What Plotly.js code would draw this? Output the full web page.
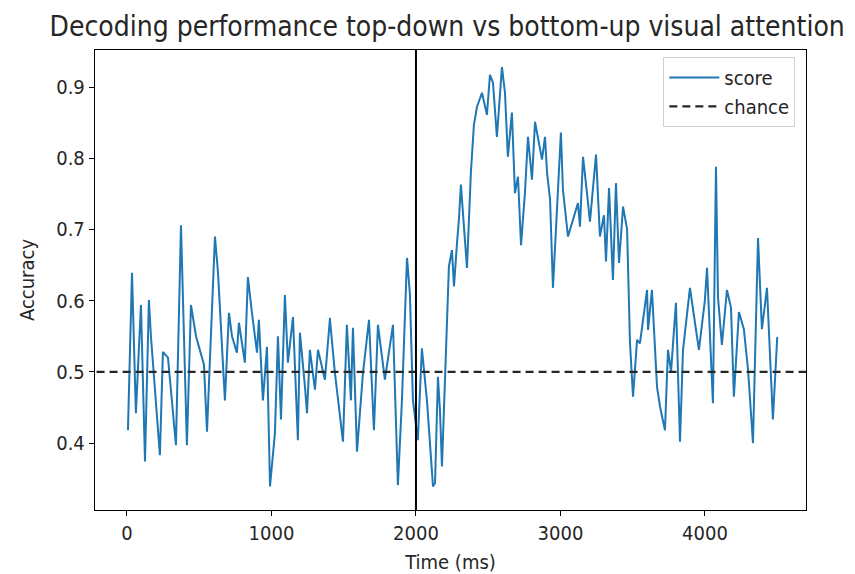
<!DOCTYPE html>
<html>
<head>
<meta charset="utf-8">
<script src="https://cdn.plot.ly/plotly-3.0.1.min.js"></script>
<style>html,body{margin:0;padding:0;background:#fff;}#chart{width:855px;height:574px;}</style>
</head>
<body>
<div id="chart"></div>
<script>
// Time in ms
const timeMs = [7,35,62,97,125,152,166,228,249,284,339,374,415,443,478,533,554,609,630,678,706,727,761,775,816,837,865,900,913,941,969,990,1024,1045,1066,1093,1114,1149,1183,1197,1232,1246,1266,1301,1322,1370,1405,1405,1439,1495,1522,1550,1564,1592,1633,1675,1709,1737,1785,1841,1875,1903,1938,1958,1979,2013,2041,2076,2118,2132,2152,2166,2180,2214,2228,2249,2263,2284,2297,2311,2339,2353,2380,2401,2422,2457,2491,2512,2533,2560,2595,2616,2636,2664,2685,2706,2727,2754,2775,2803,2824,2872,2893,2907,2928,2948,3003,3017,3052,3086,3121,3135,3156,3184,3204,3246,3273,3301,3315,3336,3363,3384,3405,3433,3461,3481,3502,3530,3550,3599,3606,3633,3668,3689,3723,3744,3765,3799,3827,3848,3875,3896,3930,3958,3999,4014,4055,4076,4090,4117,4152,4180,4200,4235,4269,4298,4332,4367,4394,4429,4470,4500];
// Decoding accuracy
const score = [0.418,0.639,0.442,0.594,0.374,0.601,0.550,0.383,0.528,0.520,0.397,0.706,0.397,0.594,0.550,0.510,0.416,0.690,0.640,0.460,0.583,0.550,0.527,0.569,0.513,0.633,0.583,0.527,0.573,0.460,0.535,0.339,0.414,0.550,0.433,0.608,0.513,0.577,0.404,0.555,0.479,0.442,0.531,0.475,0.531,0.489,0.576,0.573,0.499,0.402,0.566,0.460,0.562,0.388,0.498,0.573,0.418,0.566,0.489,0.566,0.341,0.460,0.660,0.610,0.460,0.404,0.533,0.460,0.339,0.344,0.493,0.446,0.367,0.563,0.648,0.671,0.620,0.681,0.713,0.763,0.676,0.646,0.780,0.847,0.872,0.892,0.861,0.917,0.906,0.830,0.928,0.892,0.802,0.864,0.751,0.774,0.678,0.751,0.830,0.770,0.851,0.798,0.830,0.780,0.742,0.618,0.836,0.756,0.690,0.713,0.737,0.704,0.802,0.750,0.711,0.805,0.690,0.720,0.655,0.758,0.629,0.765,0.653,0.732,0.700,0.541,0.465,0.545,0.540,0.615,0.559,0.615,0.479,0.451,0.418,0.531,0.500,0.597,0.402,0.531,0.583,0.618,0.570,0.531,0.600,0.646,0.456,0.788,0.605,0.538,0.615,0.590,0.465,0.584,0.560,0.503,0.400,0.688,0.560,0.618,0.433,0.549,0.545];
const chanceX = [-300, 4800];
const chanceY = [0.5, 0.5];
const onsetMs = 2000;
const xTicks = [0, 1000, 2000, 3000, 4000];
const yTicks = [0.4, 0.5, 0.6, 0.7, 0.8, 0.9];

const font = "'DejaVu Sans Condensed', 'DejaVu Sans', sans-serif";
const traces = [
  {x: timeMs, y: score, type: 'scatter', mode: 'lines', name: 'score',
   line: {color: '#1f77b4', width: 2}},
  {x: chanceX, y: chanceY, type: 'scatter', mode: 'lines', name: 'chance',
   line: {color: '#262626', width: 2.2, dash: '8px,5px'}}
];
const layout = {
  width: 855, height: 574,
  margin: {l: 95, r: 49, t: 50, b: 64},
  paper_bgcolor: '#fff', plot_bgcolor: '#fff',
  font: {family: font, size: 19, color: '#262626'},
  title: {text: 'Decoding performance top-down vs bottom-up visual attention',
          font: {family: font, size: 28, color: '#262626'},
          x: 0.523, xanchor: 'center', y: 0.955, yanchor: 'middle'},
  xaxis: {range: [-221, 4699], tickvals: xTicks, ticktext: xTicks.map(String),
          showgrid: false, zeroline: false, showline: true, mirror: true,
          linecolor: '#000', linewidth: 1.2, ticks: 'outside', ticklen: 5, tickcolor: '#000',
          tickfont: {size: 20},
          title: {text: 'Time (ms)', font: {size: 20}, standoff: 10}},
  yaxis: {range: [0.306, 0.952], tickvals: yTicks, ticktext: yTicks.map(v => v.toFixed(1)),
          showgrid: false, zeroline: false, showline: true, mirror: true,
          linecolor: '#000', linewidth: 1.2, ticks: 'outside', ticklen: 5, tickcolor: '#000',
          tickfont: {size: 20},
          title: {text: 'Accuracy', font: {size: 20}, standoff: 16}},
  shapes: [{type: 'line', xref: 'x', yref: 'paper', x0: onsetMs, x1: onsetMs, y0: 0, y1: 1,
            line: {color: '#000', width: 2}}],
  legend: {x: 0.985, y: 0.985, xanchor: 'right', yanchor: 'top', itemwidth: 50,
           bgcolor: 'rgba(255,255,255,0.8)', bordercolor: '#d0d0d0', borderwidth: 1,
           font: {size: 20}},
  showlegend: true
};
Plotly.newPlot('chart', traces, layout, {displayModeBar: false, staticPlot: true});
</script>
</body>
</html>
